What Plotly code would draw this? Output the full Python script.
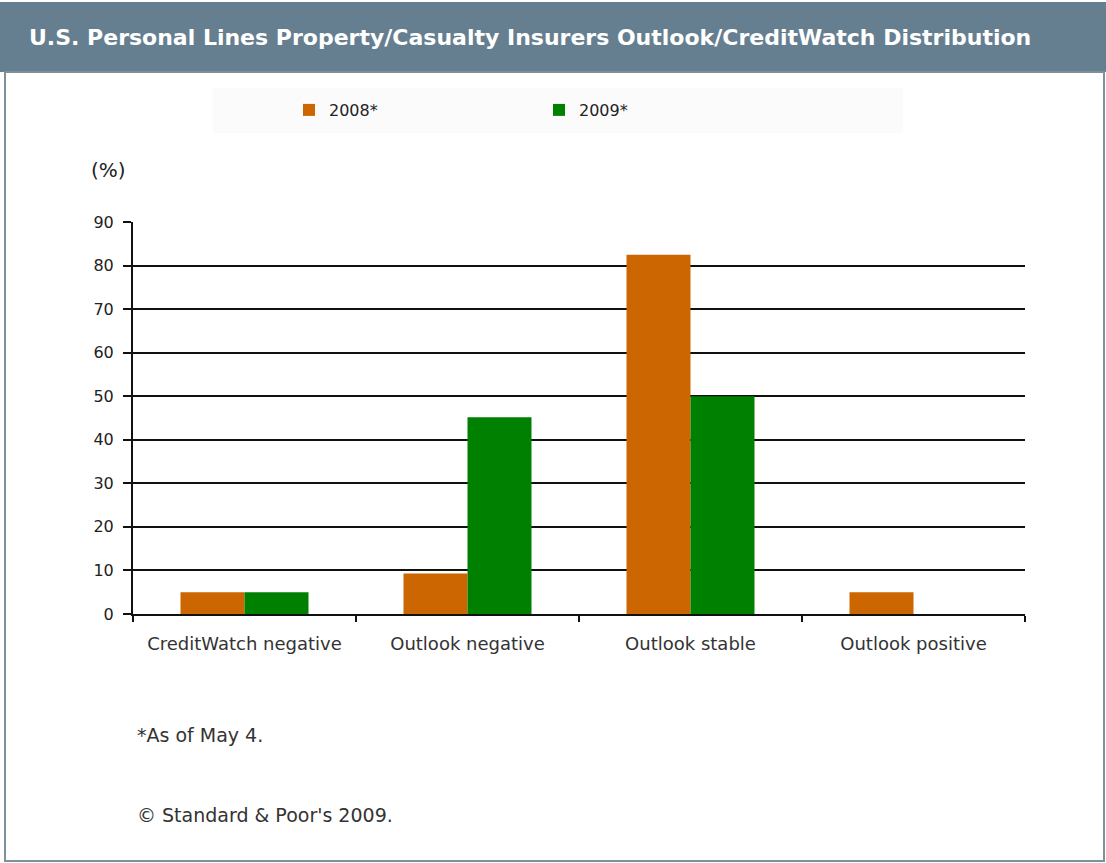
import plotly.graph_objects as go

# ---- data ----
categories = ["CreditWatch negative", "Outlook negative", "Outlook stable", "Outlook positive"]
series_names = ["2008*", "2009*"]
values_2008 = [5.0, 9.3, 82.5, 5.0]
values_2009 = [5.0, 45.2, 50.0, 0.0]
y_ticks = [0, 10, 20, 30, 40, 50, 60, 70, 80, 90]
title_text = "U.S. Personal Lines Property/Casualty Insurers Outlook/CreditWatch Distribution"
unit_text = "(%)"
note_text = "*As of May 4."
source_text = "© Standard & Poor's 2009."

colors = ["#CC6600", "#008000"]

W, H = 1106, 863
L, R, T, B = 133, 1025, 222, 614  # plot area in px


def X(px):
    return (px - L) / (R - L)


def Y(py):
    return (B - py) / (B - T)


FONT = "DejaVu Sans, Verdana, sans-serif"

fig = go.Figure()
for name, vals, c in zip(series_names, [values_2008, values_2009], colors):
    fig.add_trace(go.Bar(x=categories, y=vals, name=name,
                         marker=dict(color=c, line=dict(width=0))))

fig.update_layout(
    width=W, height=H,
    margin=dict(l=L, r=W - R, t=T, b=H - B, autoexpand=False),
    paper_bgcolor="white", plot_bgcolor="white",
    barmode="group", bargap=0.426, bargroupgap=0,
    font=dict(family=FONT, color="#333333"),
    showlegend=True,
    legend=dict(orientation="h", x=X(289), y=Y(110), xanchor="left", yanchor="middle",
                bgcolor="rgba(0,0,0,0)", font=dict(size=16, color="#222222", family=FONT),
                entrywidth=205, entrywidthmode="pixels", traceorder="normal"),
)

fig.update_yaxes(range=[0, 90], tickvals=y_ticks, showgrid=True, gridcolor="#111111", gridwidth=1.6,
                 ticks="outside", ticklen=8, tickwidth=1.6, tickcolor="#111111",
                 showline=True, linecolor="#111111", linewidth=2,
                 tickfont=dict(size=16, color="#222222", family=FONT),
                 ticklabelstandoff=6, zeroline=False, fixedrange=True)
fig.update_xaxes(range=[-0.5, 3.5], tickson="boundaries", ticks="outside", ticklen=6, tickwidth=1.6,
                 tickcolor="#111111", showline=True, linecolor="#111111", linewidth=2,
                 showgrid=False, tickfont=dict(size=18, color="#333333", family=FONT),
                 ticklabelstandoff=12, fixedrange=True)

shapes = [
    # header band
    dict(type="rect", xref="paper", yref="paper", x0=X(0), x1=X(W), y0=Y(72), y1=Y(2),
         fillcolor="#667f90", line=dict(width=0), layer="below"),
    # panel border
    dict(type="rect", xref="paper", yref="paper", x0=X(5), x1=X(1104), y0=Y(861), y1=Y(72),
         fillcolor="rgba(0,0,0,0)", line=dict(color="#7d909c", width=2), layer="below"),
    # legend background
    dict(type="rect", xref="paper", yref="paper", x0=X(213), x1=X(903), y0=Y(133), y1=Y(88),
         fillcolor="#fbfbfb", line=dict(width=0), layer="below"),
]
fig.update_layout(shapes=shapes)

annotations = [
    dict(text=title_text, x=X(27), y=Y(37), xref="paper", yref="paper", xanchor="left", yanchor="middle",
         showarrow=False, font=dict(size=22, color="white", family=FONT, weight="bold")),
    dict(text=unit_text, x=X(89), y=Y(170), xref="paper", yref="paper", xanchor="left", yanchor="middle",
         showarrow=False, font=dict(size=20, color="#222222", family=FONT)),
    dict(text=note_text, x=X(135), y=Y(735), xref="paper", yref="paper", xanchor="left", yanchor="middle",
         showarrow=False, font=dict(size=19, color="#333333", family=FONT)),
    dict(text=source_text, x=X(135), y=Y(815), xref="paper", yref="paper", xanchor="left", yanchor="middle",
         showarrow=False, font=dict(size=19, color="#333333", family=FONT)),
]
fig.update_layout(annotations=annotations)

fig.write_html("out.html", config={"displayModeBar": False},
               post_script="document.body.style.margin='0';")
